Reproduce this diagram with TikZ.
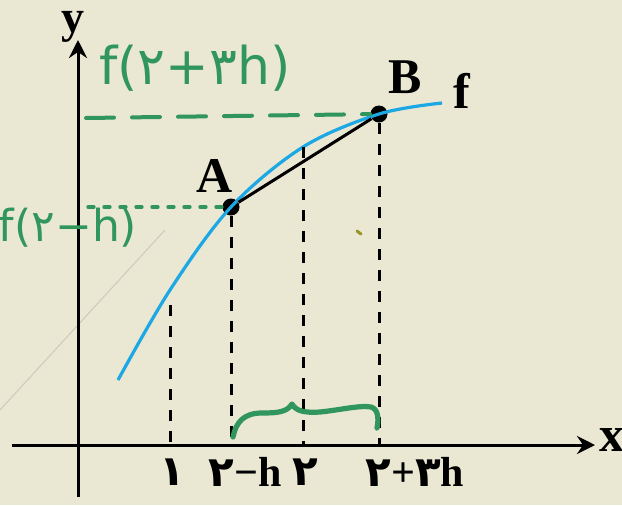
\documentclass[tikz,border=0pt]{standalone}
\usepackage[dvipsnames,svgnames,x11names]{xcolor}
\usepackage{fontspec}
\setmainfont{Liberation Serif}
\newfontfamily\persianfont[Script=Arabic]{DejaVu Sans}
\usetikzlibrary{arrows.meta, calc, positioning}
\definecolor{PaperBeige}{RGB}{234,231,211}
\definecolor{CurveBlue}{RGB}{28,168,228}
\definecolor{InkGreen}{RGB}{48,150,92}
\definecolor{FaintLine}{RGB}{204,202,184}
\definecolor{InkOlive}{RGB}{150,150,40}
\tikzset{
    axis/.style={line width=1.5pt, -{Stealth[length=9pt,width=9pt,inset=3pt]}},
    guide/.style={line width=1.5pt, dash pattern=on 5.5pt off 5pt},
    dot/.style={circle, fill=black, inner sep=0pt, minimum size=8.5pt},
    letter/.style={font=\fontsize{25}{28}\selectfont\bfseries, inner sep=0pt},
    tick label/.style={font=\fontsize{21}{24}\selectfont\bfseries, inner sep=0pt},
    ink/.style={InkGreen, line cap=round, line join=round},
    ink text/.style={text=InkGreen, font=\persianfont\fontsize{26}{28}\selectfont, inner sep=0pt},
}
\newcommand{\fa}[1]{{\persianfont\fontsize{21}{22}\selectfont\bfseries #1}}
\begin{document}
\begin{tikzpicture}[x=0.5pt, y=-0.5pt]
    \fill[PaperBeige] (0,0) rectangle (622,505);
    \useasboundingbox (0,0) rectangle (622,505);
    \draw[FaintLine, line width=0.5pt] (0,410) -- (165,230);
    \coordinate (origin) at (78,445);
    \coordinate (xend) at (595,445);
    \coordinate (yend) at (78,40);
    \draw[axis] (12,445) -- (xend);
    \draw[axis] (78,497) -- (yend);
    \node[letter] (xlabel) at (612,440) {x};
    \node[letter, font=\fontsize{23}{26}\selectfont\bfseries] (ylabel) at (73,27) {y};
    \node[dot] (A) at (231,207) {};
    \node[dot] (B) at (379,114) {};
    \coordinate (C1) at (170,290);
    \coordinate (C2) at (303,147);
    \draw[CurveBlue, line width=1.6pt] plot[smooth, tension=0.55] coordinates {(118,380) (170,290) (231,207) (303,147) (379,114) (442,103)};
    \draw[line width=1.5pt] (A) -- (B);
    \node[letter] (Alabel) at (215,176) {A};
    \node[letter] (Blabel) at (405,77) {B};
    \node[letter] (flabel) at (462,91) {f};
    \draw[guide] (170,305) -- (170,445);
    \draw[guide] (A) -- (A |- origin);
    \draw[guide] (C2) -- (C2 |- origin);
    \draw[guide] (B) -- (B |- origin);
    \node[tick label] (t1) at (172,472) {\fa{۱}};
    \node[tick label] (t2) at (245,472) {\fa{۲}−h};
    \node[tick label] (t3) at (305,472) {\fa{۲}};
    \node[tick label] (t4) at (415,472) {\fa{۲}+\fa{۳}h};
    \draw[ink, line width=2pt, dash pattern=on 14pt off 9pt] (86,118) -- (B);
    \draw[ink, line width=1.6pt, dash pattern=on 3pt off 5pt] (88,207) -- (A);
    \node[ink text] (fright) at (195,68) {f(۲+۳h)};
    \node[ink text, font=\persianfont\fontsize{22}{24}\selectfont] (fleft) at (68,228) {f(۲−h)};
    \draw[ink, line width=2.6pt] (233,437) .. controls (236,422) and (244,413) .. (262,413)
        .. controls (278,413) and (287,412) .. (292,404)
        .. controls (296,411) and (304,413) .. (320,412)
        .. controls (340,410) and (360,405) .. (371,407)
        .. controls (378,409) and (379,418) .. (377,428);
    \draw[InkOlive, line width=1.5pt, line cap=round] (357,231) -- (361,234);
\end{tikzpicture}
\end{document}
